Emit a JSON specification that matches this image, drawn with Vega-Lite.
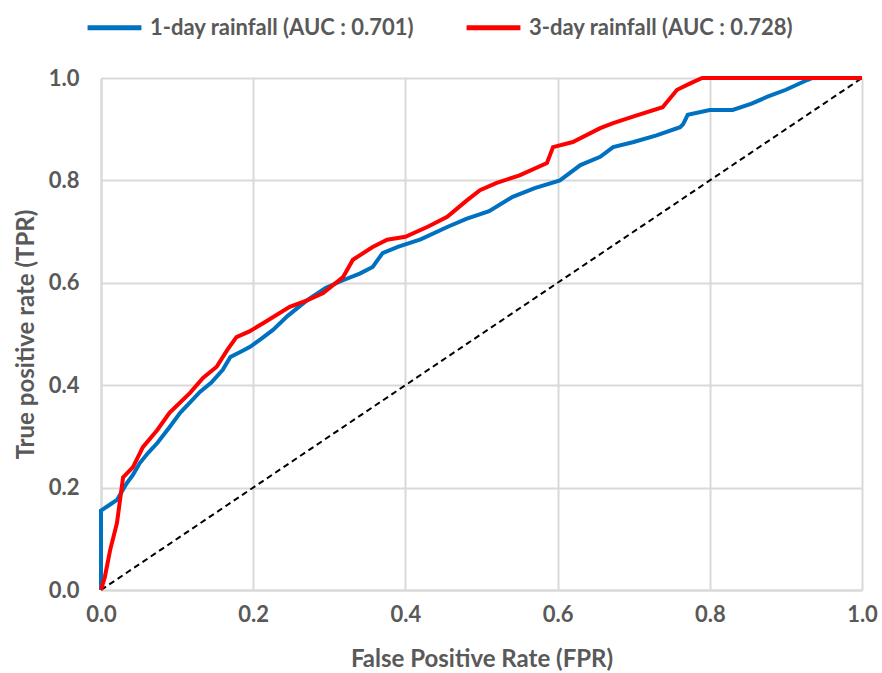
{
  "$schema": "https://vega.github.io/schema/vega-lite/v6.json",
  "width": 761,
  "height": 512,
  "autosize": {"type": "none"},
  "padding": {"left": 101, "top": 78, "right": 20, "bottom": 83},
  "background": "white",
  "config": {
    "view": {"stroke": null},
    "font": "Lato",
    "axis": {
      "labelFont": "Lato", "labelFontWeight": "bold", "labelFontSize": 22, "labelColor": "#595959",
      "titleFont": "Lato", "titleFontWeight": "bold", "titleFontSize": 24, "titleColor": "#595959",
      "gridColor": "#d9d9d9", "gridWidth": 2, "domainColor": "#d9d9d9", "domainWidth": 2,
      "ticks": false, "labelFlush": false
    }
  },
  "datasets": {
    "roc": [
      {"s": "1-day rainfall (AUC : 0.701)", "i": 0, "fpr": 0, "tpr": 0},
      {"s": "1-day rainfall (AUC : 0.701)", "i": 1, "fpr": 0, "tpr": 0.155},
      {"s": "1-day rainfall (AUC : 0.701)", "i": 2, "fpr": 0.01, "tpr": 0.165},
      {"s": "1-day rainfall (AUC : 0.701)", "i": 3, "fpr": 0.021, "tpr": 0.176},
      {"s": "1-day rainfall (AUC : 0.701)", "i": 4, "fpr": 0.034, "tpr": 0.209},
      {"s": "1-day rainfall (AUC : 0.701)", "i": 5, "fpr": 0.042, "tpr": 0.225},
      {"s": "1-day rainfall (AUC : 0.701)", "i": 6, "fpr": 0.051, "tpr": 0.248},
      {"s": "1-day rainfall (AUC : 0.701)", "i": 7, "fpr": 0.062, "tpr": 0.268},
      {"s": "1-day rainfall (AUC : 0.701)", "i": 8, "fpr": 0.074, "tpr": 0.287},
      {"s": "1-day rainfall (AUC : 0.701)", "i": 9, "fpr": 0.09, "tpr": 0.318},
      {"s": "1-day rainfall (AUC : 0.701)", "i": 10, "fpr": 0.104, "tpr": 0.346},
      {"s": "1-day rainfall (AUC : 0.701)", "i": 11, "fpr": 0.118, "tpr": 0.368},
      {"s": "1-day rainfall (AUC : 0.701)", "i": 12, "fpr": 0.13, "tpr": 0.387},
      {"s": "1-day rainfall (AUC : 0.701)", "i": 13, "fpr": 0.145, "tpr": 0.405},
      {"s": "1-day rainfall (AUC : 0.701)", "i": 14, "fpr": 0.16, "tpr": 0.43},
      {"s": "1-day rainfall (AUC : 0.701)", "i": 15, "fpr": 0.17, "tpr": 0.455},
      {"s": "1-day rainfall (AUC : 0.701)", "i": 16, "fpr": 0.183, "tpr": 0.465},
      {"s": "1-day rainfall (AUC : 0.701)", "i": 17, "fpr": 0.196, "tpr": 0.475},
      {"s": "1-day rainfall (AUC : 0.701)", "i": 18, "fpr": 0.21, "tpr": 0.49},
      {"s": "1-day rainfall (AUC : 0.701)", "i": 19, "fpr": 0.226, "tpr": 0.508},
      {"s": "1-day rainfall (AUC : 0.701)", "i": 20, "fpr": 0.245, "tpr": 0.535},
      {"s": "1-day rainfall (AUC : 0.701)", "i": 21, "fpr": 0.271, "tpr": 0.566},
      {"s": "1-day rainfall (AUC : 0.701)", "i": 22, "fpr": 0.295, "tpr": 0.59},
      {"s": "1-day rainfall (AUC : 0.701)", "i": 23, "fpr": 0.318, "tpr": 0.605},
      {"s": "1-day rainfall (AUC : 0.701)", "i": 24, "fpr": 0.34, "tpr": 0.618},
      {"s": "1-day rainfall (AUC : 0.701)", "i": 25, "fpr": 0.357, "tpr": 0.631},
      {"s": "1-day rainfall (AUC : 0.701)", "i": 26, "fpr": 0.37, "tpr": 0.658},
      {"s": "1-day rainfall (AUC : 0.701)", "i": 27, "fpr": 0.39, "tpr": 0.67},
      {"s": "1-day rainfall (AUC : 0.701)", "i": 28, "fpr": 0.42, "tpr": 0.685},
      {"s": "1-day rainfall (AUC : 0.701)", "i": 29, "fpr": 0.455, "tpr": 0.709},
      {"s": "1-day rainfall (AUC : 0.701)", "i": 30, "fpr": 0.48, "tpr": 0.725},
      {"s": "1-day rainfall (AUC : 0.701)", "i": 31, "fpr": 0.51, "tpr": 0.74},
      {"s": "1-day rainfall (AUC : 0.701)", "i": 32, "fpr": 0.541, "tpr": 0.768},
      {"s": "1-day rainfall (AUC : 0.701)", "i": 33, "fpr": 0.57, "tpr": 0.785},
      {"s": "1-day rainfall (AUC : 0.701)", "i": 34, "fpr": 0.603, "tpr": 0.8},
      {"s": "1-day rainfall (AUC : 0.701)", "i": 35, "fpr": 0.63, "tpr": 0.83},
      {"s": "1-day rainfall (AUC : 0.701)", "i": 36, "fpr": 0.656, "tpr": 0.846},
      {"s": "1-day rainfall (AUC : 0.701)", "i": 37, "fpr": 0.673, "tpr": 0.865},
      {"s": "1-day rainfall (AUC : 0.701)", "i": 38, "fpr": 0.7, "tpr": 0.875},
      {"s": "1-day rainfall (AUC : 0.701)", "i": 39, "fpr": 0.73, "tpr": 0.888},
      {"s": "1-day rainfall (AUC : 0.701)", "i": 40, "fpr": 0.761, "tpr": 0.904},
      {"s": "1-day rainfall (AUC : 0.701)", "i": 41, "fpr": 0.765, "tpr": 0.91},
      {"s": "1-day rainfall (AUC : 0.701)", "i": 42, "fpr": 0.771, "tpr": 0.928},
      {"s": "1-day rainfall (AUC : 0.701)", "i": 43, "fpr": 0.8, "tpr": 0.9375},
      {"s": "1-day rainfall (AUC : 0.701)", "i": 44, "fpr": 0.83, "tpr": 0.9375},
      {"s": "1-day rainfall (AUC : 0.701)", "i": 45, "fpr": 0.855, "tpr": 0.95},
      {"s": "1-day rainfall (AUC : 0.701)", "i": 46, "fpr": 0.875, "tpr": 0.963},
      {"s": "1-day rainfall (AUC : 0.701)", "i": 47, "fpr": 0.9, "tpr": 0.977},
      {"s": "1-day rainfall (AUC : 0.701)", "i": 48, "fpr": 0.928, "tpr": 0.996},
      {"s": "1-day rainfall (AUC : 0.701)", "i": 49, "fpr": 0.935, "tpr": 1},
      {"s": "1-day rainfall (AUC : 0.701)", "i": 50, "fpr": 1, "tpr": 1},
      {"s": "3-day rainfall (AUC : 0.728)", "i": 0, "fpr": 0, "tpr": 0},
      {"s": "3-day rainfall (AUC : 0.728)", "i": 1, "fpr": 0.005, "tpr": 0.025},
      {"s": "3-day rainfall (AUC : 0.728)", "i": 2, "fpr": 0.012, "tpr": 0.078},
      {"s": "3-day rainfall (AUC : 0.728)", "i": 3, "fpr": 0.021, "tpr": 0.131},
      {"s": "3-day rainfall (AUC : 0.728)", "i": 4, "fpr": 0.028, "tpr": 0.209},
      {"s": "3-day rainfall (AUC : 0.728)", "i": 5, "fpr": 0.029, "tpr": 0.22},
      {"s": "3-day rainfall (AUC : 0.728)", "i": 6, "fpr": 0.042, "tpr": 0.24},
      {"s": "3-day rainfall (AUC : 0.728)", "i": 7, "fpr": 0.055, "tpr": 0.279},
      {"s": "3-day rainfall (AUC : 0.728)", "i": 8, "fpr": 0.074, "tpr": 0.3125},
      {"s": "3-day rainfall (AUC : 0.728)", "i": 9, "fpr": 0.09, "tpr": 0.346},
      {"s": "3-day rainfall (AUC : 0.728)", "i": 10, "fpr": 0.117, "tpr": 0.385},
      {"s": "3-day rainfall (AUC : 0.728)", "i": 11, "fpr": 0.134, "tpr": 0.414},
      {"s": "3-day rainfall (AUC : 0.728)", "i": 12, "fpr": 0.152, "tpr": 0.436},
      {"s": "3-day rainfall (AUC : 0.728)", "i": 13, "fpr": 0.166, "tpr": 0.469},
      {"s": "3-day rainfall (AUC : 0.728)", "i": 14, "fpr": 0.178, "tpr": 0.494},
      {"s": "3-day rainfall (AUC : 0.728)", "i": 15, "fpr": 0.195, "tpr": 0.505},
      {"s": "3-day rainfall (AUC : 0.728)", "i": 16, "fpr": 0.213, "tpr": 0.521},
      {"s": "3-day rainfall (AUC : 0.728)", "i": 17, "fpr": 0.248, "tpr": 0.553},
      {"s": "3-day rainfall (AUC : 0.728)", "i": 18, "fpr": 0.27, "tpr": 0.565},
      {"s": "3-day rainfall (AUC : 0.728)", "i": 19, "fpr": 0.292, "tpr": 0.58},
      {"s": "3-day rainfall (AUC : 0.728)", "i": 20, "fpr": 0.318, "tpr": 0.611},
      {"s": "3-day rainfall (AUC : 0.728)", "i": 21, "fpr": 0.331, "tpr": 0.645},
      {"s": "3-day rainfall (AUC : 0.728)", "i": 22, "fpr": 0.357, "tpr": 0.67},
      {"s": "3-day rainfall (AUC : 0.728)", "i": 23, "fpr": 0.376, "tpr": 0.684},
      {"s": "3-day rainfall (AUC : 0.728)", "i": 24, "fpr": 0.4, "tpr": 0.69},
      {"s": "3-day rainfall (AUC : 0.728)", "i": 25, "fpr": 0.43, "tpr": 0.71},
      {"s": "3-day rainfall (AUC : 0.728)", "i": 26, "fpr": 0.455, "tpr": 0.729},
      {"s": "3-day rainfall (AUC : 0.728)", "i": 27, "fpr": 0.48, "tpr": 0.76},
      {"s": "3-day rainfall (AUC : 0.728)", "i": 28, "fpr": 0.498, "tpr": 0.781},
      {"s": "3-day rainfall (AUC : 0.728)", "i": 29, "fpr": 0.52, "tpr": 0.795},
      {"s": "3-day rainfall (AUC : 0.728)", "i": 30, "fpr": 0.55, "tpr": 0.81},
      {"s": "3-day rainfall (AUC : 0.728)", "i": 31, "fpr": 0.586, "tpr": 0.834},
      {"s": "3-day rainfall (AUC : 0.728)", "i": 32, "fpr": 0.594, "tpr": 0.865},
      {"s": "3-day rainfall (AUC : 0.728)", "i": 33, "fpr": 0.62, "tpr": 0.875},
      {"s": "3-day rainfall (AUC : 0.728)", "i": 34, "fpr": 0.656, "tpr": 0.902},
      {"s": "3-day rainfall (AUC : 0.728)", "i": 35, "fpr": 0.673, "tpr": 0.912},
      {"s": "3-day rainfall (AUC : 0.728)", "i": 36, "fpr": 0.7, "tpr": 0.925},
      {"s": "3-day rainfall (AUC : 0.728)", "i": 37, "fpr": 0.738, "tpr": 0.943},
      {"s": "3-day rainfall (AUC : 0.728)", "i": 38, "fpr": 0.757, "tpr": 0.977},
      {"s": "3-day rainfall (AUC : 0.728)", "i": 39, "fpr": 0.775, "tpr": 0.99},
      {"s": "3-day rainfall (AUC : 0.728)", "i": 40, "fpr": 0.79, "tpr": 1},
      {"s": "3-day rainfall (AUC : 0.728)", "i": 41, "fpr": 1, "tpr": 1}
    ],
    "diag": [{"fpr": 0, "tpr": 0}, {"fpr": 1, "tpr": 1}]
  },
  "layer": [
    {
      "data": {"name": "diag"},
      "mark": {"type": "line", "color": "black", "strokeWidth": 2, "strokeDash": [6, 4]},
      "encoding": {
        "x": {"field": "fpr", "type": "quantitative"},
        "y": {"field": "tpr", "type": "quantitative"}
      }
    },
    {
      "data": {"name": "roc"},
      "mark": {"type": "line", "strokeWidth": 4},
      "encoding": {
        "x": {
          "field": "fpr", "type": "quantitative",
          "scale": {"domain": [0, 1], "nice": false},
          "axis": {"title": "False Positive Rate (FPR)", "values": [0, 0.2, 0.4, 0.6, 0.8, 1], "format": ".1f", "labelPadding": 14, "titlePadding": 22}
        },
        "y": {
          "field": "tpr", "type": "quantitative",
          "scale": {"domain": [0, 1], "nice": false},
          "axis": {"title": "True positive rate (TPR)", "values": [0, 0.2, 0.4, 0.6, 0.8, 1], "format": ".1f", "labelPadding": 22, "titlePadding": 10}
        },
        "order": {"field": "i", "type": "quantitative"},
        "color": {
          "field": "s", "type": "nominal",
          "scale": {"domain": ["1-day rainfall (AUC : 0.701)", "3-day rainfall (AUC : 0.728)"], "range": ["#0070C0", "#FF0000"]},
          "legend": {
            "title": null, "orient": "none", "direction": "horizontal",
            "legendX": -16, "legendY": -80, "padding": 0,
            "symbolType": "stroke", "symbolSize": 2900, "symbolStrokeWidth": 5,
            "labelFont": "Lato", "labelFontWeight": "bold", "labelFontSize": 22, "labelColor": "#595959",
            "labelOffset": 6, "columnPadding": 41, "labelLimit": 0
          }
        }
      }
    }
  ]
}
